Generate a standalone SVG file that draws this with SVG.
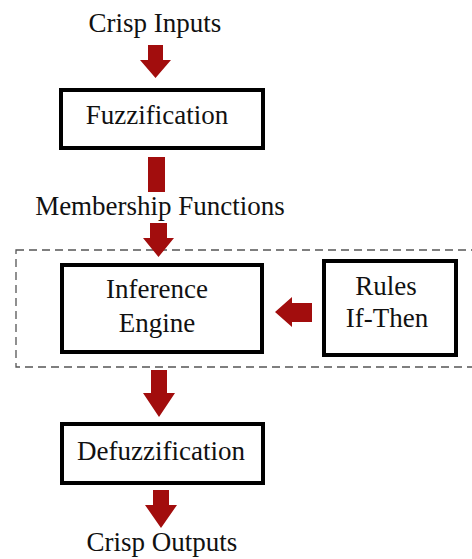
<svg xmlns="http://www.w3.org/2000/svg" width="472" height="559" viewBox="0 0 472 559">
<style>
.box{fill:#fff;stroke:#000;stroke-width:4}
.t{font-family:"Liberation Serif","Times New Roman",serif;font-size:27px;fill:#111;text-anchor:middle}
.arr{fill:#a20d0d}
.dash{fill:none;stroke:#555;stroke-width:1.3;stroke-dasharray:8 5}
</style>
<rect width="472" height="559" fill="#fff"/>
<g id="group-dashed"><rect class="dash" x="16" y="250" width="470" height="117"/></g>
<g id="connectors">
<polygon class="arr" points="148,45 163,45 163,60 171,60 155.5,78 140,60 148,60"/>
<rect class="arr" x="148" y="157" width="17" height="35"/>
<polygon class="arr" points="150,223 167,223 167,238 174,238 158.5,257 143,238 150,238"/>
<polygon class="arr" points="151,370 167,370 167,393 175,393 159,417 143,393 151,393"/>
<polygon class="arr" points="153,490 169,490 169,505 177,505 161,528 145,505 153,505"/>
<polygon class="arr" points="275,312 292,297 292,303 312,303 312,322 292,322 292,327"/>
</g>
<g id="crisp-inputs"><text class="t" x="155" y="32">Crisp Inputs</text></g>
<g id="fuzzification"><rect class="box" x="61" y="90" width="202" height="58"/><text class="t" x="157" y="124">Fuzzification</text></g>
<g id="membership-functions"><text class="t" x="160" y="215">Membership Functions</text></g>
<g id="inference-engine"><rect class="box" x="62" y="265" width="200" height="87"/><text class="t" x="157" y="298">Inference</text><text class="t" x="157" y="332">Engine</text></g>
<g id="rules"><rect class="box" x="324" y="261" width="132" height="94"/><text class="t" x="386" y="295">Rules</text><text class="t" x="387" y="327">If-Then</text></g>
<g id="defuzzification"><rect class="box" x="62" y="424" width="201" height="59"/><text class="t" x="161" y="460">Defuzzification</text></g>
<g id="crisp-outputs"><text class="t" x="162" y="551">Crisp Outputs</text></g>
</svg>
